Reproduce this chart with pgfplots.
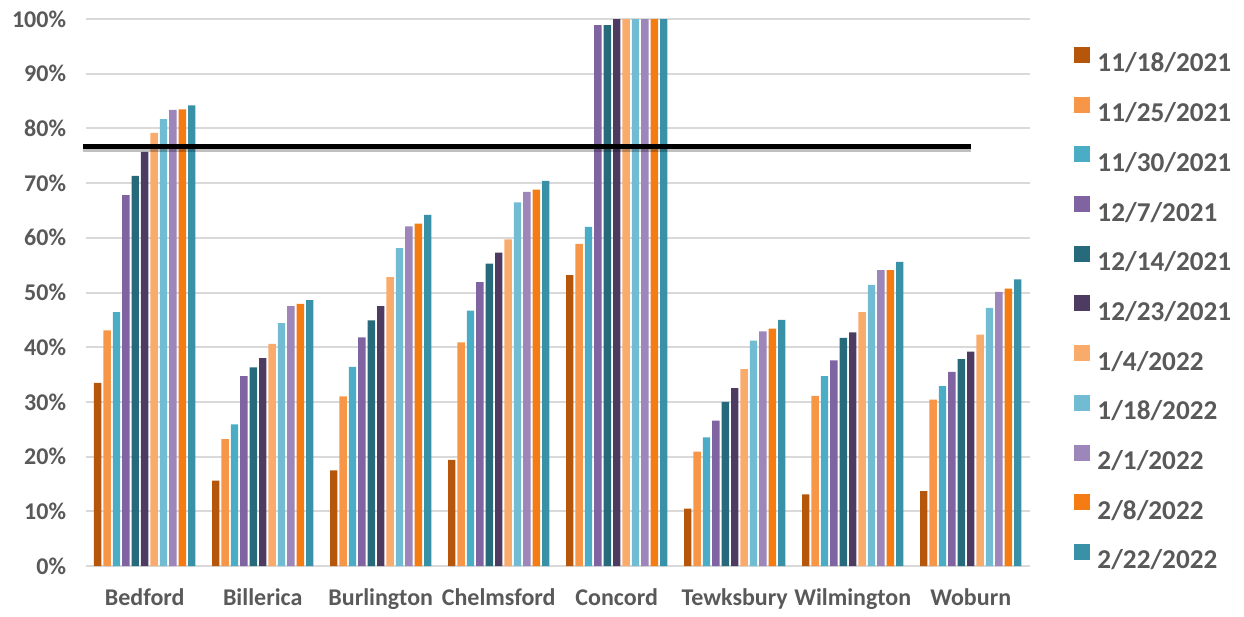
\documentclass[border=0pt]{standalone}
\usepackage{fontspec}
\setmainfont{Carlito}
\usepackage{pgfplots}
\usepackage{pgfplotstable}
\pgfplotsset{compat=1.18}

\definecolor{c1}{HTML}{B5560B}
\definecolor{c2}{HTML}{F79646}
\definecolor{c3}{HTML}{4BACC6}
\definecolor{c4}{HTML}{8064A2}
\definecolor{c5}{HTML}{276A7C}
\definecolor{c6}{HTML}{4D3B62}
\definecolor{c7}{HTML}{F9AB6B}
\definecolor{c8}{HTML}{72BCD3}
\definecolor{c9}{HTML}{9C86BA}
\definecolor{c10}{HTML}{F47C12}
\definecolor{c11}{HTML}{3891A7}
\definecolor{txt}{HTML}{595959}
\definecolor{grid}{HTML}{D9D9D9}

% rows = towns, columns = survey dates
\pgfplotstableread{
x  s1   s2   s3   s4   s5   s6   s7   s8    s9    s10   s11
0  33.5 43.1 46.4 67.8 71.3 75.7 79.2 81.7  83.4  83.5  84.2
1  15.6 23.2 25.9 34.7 36.3 38.0 40.6 44.4  47.5  47.9  48.6
2  17.5 31.0 36.4 41.8 44.9 47.5 52.8 58.1  62.1  62.6  64.2
3  19.4 40.9 46.7 51.9 55.3 57.3 59.7 66.5  68.4  68.8  70.4
4  53.2 58.9 62.0 98.9 98.9 100  100  100   100   100   100
5  10.5 20.9 23.5 26.6 30.0 32.5 36.0 41.2  42.9  43.4  45.0
6  13.1 31.1 34.7 37.6 41.7 42.7 46.4 51.4  54.1  54.1  55.6
7  13.7 30.4 32.9 35.5 37.8 39.2 42.3 47.2  50.1  50.7  52.4
}\data

\begin{document}
\begin{tikzpicture}
\begin{axis}[
  name=a,
  scale only axis, width=472pt, height=273.5pt,
  ybar=1pt, bar width=3.7pt,
  xmin=-0.5, xmax=7.5, ymin=0, ymax=100,
  clip=false,
  xtick={0,...,7},
  xticklabels={Bedford,Billerica,Burlington,Chelmsford,Concord,Tewksbury,Wilmington,Woburn},
  ytick={0,10,...,100},
  yticklabel={\pgfmathprintnumber{\tick}\%},
  /pgf/number format/assume math mode=true,
  tick style={draw=none},
  axis line style={draw=none},
  ymajorgrids, grid style={draw=grid, line width=1pt},
  ticklabel style={font=\bfseries\fontsize{12}{14}\selectfont, text=txt},
  xticklabel style={yshift=-3.5pt},
  yticklabel style={xshift=-6.3pt},
  legend cell align=left,
  legend style={at={(1.047,0.4717)}, anchor=west, draw=none, fill=none,
    inner sep=0pt, row sep=12.35pt, column sep=3.5pt,
    font=\bfseries\fontsize{13.6}{15}\selectfont, text=txt,
    nodes={inner sep=0pt, text height=8.4pt, text depth=0pt}},
  legend image code/.code={\fill[#1] (0pt,0.3pt) rectangle (8pt,8.3pt);},
]
\addplot[fill=c1, draw=none] table[x=x,y=s1]{\data};
\addplot[fill=c2, draw=none] table[x=x,y=s2]{\data};
\addplot[fill=c3, draw=none] table[x=x,y=s3]{\data};
\addplot[fill=c4, draw=none] table[x=x,y=s4]{\data};
\addplot[fill=c5, draw=none] table[x=x,y=s5]{\data};
\addplot[fill=c6, draw=none] table[x=x,y=s6]{\data};
\addplot[fill=c7, draw=none] table[x=x,y=s7]{\data};
\addplot[fill=c8, draw=none] table[x=x,y=s8]{\data};
\addplot[fill=c9, draw=none] table[x=x,y=s9]{\data};
\addplot[fill=c10, draw=none] table[x=x,y=s10]{\data};
\addplot[fill=c11, draw=none] table[x=x,y=s11]{\data};
\legend{11/18/2021,11/25/2021,11/30/2021,12/7/2021,12/14/2021,12/23/2021,1/4/2022,1/18/2022,2/1/2022,2/8/2022,2/22/2022}
% target line
\draw[black, opacity=0.25, line width=2.6pt] ([yshift=-1.6pt]axis cs:-0.52,76.7) -- ([yshift=-1.6pt]axis cs:7.0,76.7);
\draw[black, line width=2.4pt] (axis cs:-0.52,76.7) -- (axis cs:7.0,76.7);
\end{axis}
\path ([xshift=-42.85pt,yshift=-21.5pt]a.south west) rectangle ([xshift=107.15pt,yshift=9.5pt]a.north east);
\end{tikzpicture}
\end{document}
